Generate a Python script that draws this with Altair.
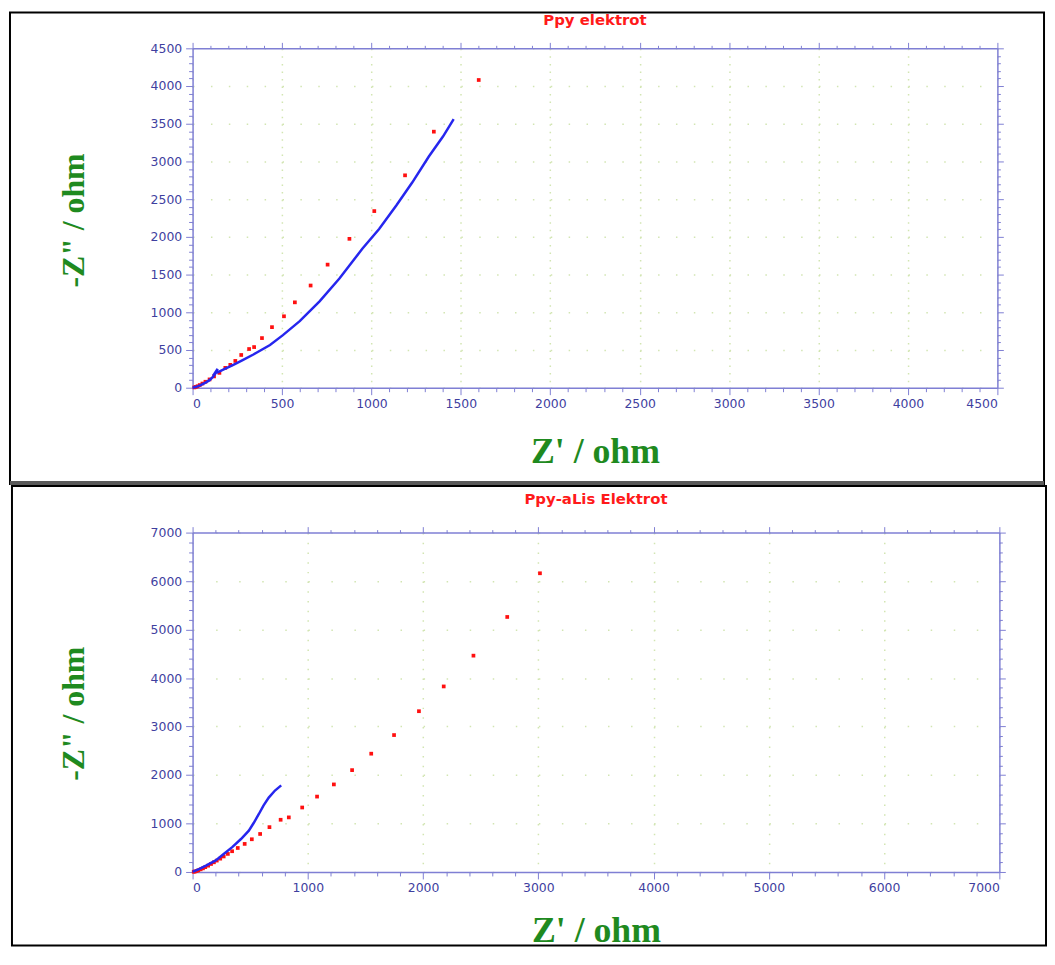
import altair as alt
import pandas as pd

# ---------------- data ----------------
top_red_x = [1600, 1349, 1188, 1016, 877, 755, 660, 572, 511, 444, 388, 344, 316, 272,
             239, 211, 183, 150, 120, 95, 72, 55, 40, 28, 18, 10]
top_red_y = [4080, 3395, 2816, 2342, 1974, 1632, 1355, 1132, 947, 803, 658, 539, 513, 434,
             355, 303, 263, 197, 150, 110, 79, 55, 35, 20, 10, 4]

top_blue_x = [0, 20, 45, 70, 95, 115, 130, 140, 136, 125, 140, 180, 228, 280, 340, 433,
              505, 599, 710, 821, 949, 1043, 1140, 1228, 1321, 1400, 1460]
top_blue_y = [0, 12, 35, 65, 100, 145, 195, 250, 235, 195, 205, 250, 303, 365, 440, 566,
              697, 882, 1145, 1447, 1842, 2105, 2420, 2720, 3065, 3330, 3560]

bot_red_x = [3014, 2730, 2437, 2179, 1964, 1748, 1550, 1384, 1226, 1080, 951, 835, 764,
             667, 586, 514, 452, 392, 343, 306, 270, 240, 210, 185, 160, 135, 110, 90,
             70, 50, 35, 20, 10]
bot_red_y = [6161, 5260, 4462, 3827, 3316, 2824, 2440, 2101, 1806, 1555, 1330, 1126, 1077,
             925, 784, 675, 579, 495, 428, 373, 320, 275, 235, 200, 165, 130, 100, 75,
             55, 35, 20, 10, 4]

bot_blue_x = [0, 60, 120, 201, 270, 344, 420, 488, 530, 574, 615, 661, 715, 769]
bot_blue_y = [0, 65, 135, 239, 370, 512, 680, 851, 1010, 1191, 1370, 1535, 1680, 1787]

titles = ["Ppy elektrot", "Ppy-aLis Elektrot"]
x_title = "Z' / ohm"
y_title = '-Z" / ohm'

AXIS_COL = "#7f7fd4"
LABEL_COL = "#3f3f9f"
GREEN = "#1f8a1f"
GRID_COL = "#d2e5b2"


def cond(major, a, b):
    return {"condition": {"test": f"datum.value % {major} == 0", "value": a}, "value": b}


def panel(rx, ry, bx, by, vmax, major, minor, W, H, title, frame, sep, ytitle_y, xtitle_y,
          title_y):
    vals = list(range(0, vmax + 1, minor))
    red = pd.DataFrame({"x": rx, "y": ry})
    blue = pd.DataFrame({"x": bx, "y": by, "o": list(range(len(bx)))})
    n = vmax // minor
    xs = alt.Scale(domain=[0, vmax], nice=False, zero=False)
    ys = alt.Scale(domain=[0, vmax], nice=False, zero=False)

    x_main = alt.Axis(orient="bottom", values=vals, format="d", labelOverlap=False,
                      labelExpr=f"datum.value % {major} == 0 ? datum.label : ''",
                      tickSize=cond(major, 7, 4), labelPadding=3,
                      grid=True, gridOpacity=cond(major, 1, 0), gridColor=GRID_COL,
                      gridWidth=1.5, gridDash=[1.5, H / n - 1.5],
                      title=x_title, titleX=W / 2, titleY=xtitle_y, titleBaseline="middle",
                      titleFont="Liberation Serif", titleFontSize=36,
                      titleFontWeight="bold", titleColor=GREEN)
    y_main = alt.Axis(orient="left", values=vals, format="d", labelOverlap=False,
                      labelExpr=f"datum.value % {major} == 0 ? datum.label : ''",
                      tickSize=cond(major, 7, 4), labelPadding=4,
                      grid=True, gridOpacity=cond(major, 1, 0), gridColor=GRID_COL,
                      gridWidth=1.5, gridDash=[1.5, W / n - 1.5],
                      title=y_title, titleX=-120, titleY=ytitle_y, titleAngle=270,
                      titleAlign="center", titleBaseline="middle",
                      titleFont="Liberation Serif", titleFontSize=32,
                      titleFontWeight="bold", titleColor=GREEN)
    x_top = alt.Axis(orient="top", values=vals, labels=False, title=None, grid=False,
                     tickSize=cond(major, 6, 3))
    y_right = alt.Axis(orient="right", values=vals, labels=False, title=None, grid=False,
                       tickSize=cond(major, 6, 3))

    pts = alt.Chart(red).mark_square(size=14, color="#ff1010", opacity=1).encode(
        x=alt.X("x:Q", scale=xs, axis=x_main),
        y=alt.Y("y:Q", scale=ys, axis=y_main),
    )
    line = alt.Chart(blue).mark_line(color="#2626ee", strokeWidth=2.5).encode(
        x=alt.X("x:Q", scale=xs, axis=x_top),
        y=alt.Y("y:Q", scale=ys, axis=y_right),
        order="o:Q",
    )
    one = pd.DataFrame({"a": [0]})
    box = alt.Chart(one).mark_rect(fillOpacity=0, stroke="black", strokeWidth=2).encode(
        x=alt.value(frame[0]), x2=alt.value(frame[1]),
        y=alt.value(frame[2]), y2=alt.value(frame[3]),
    )
    ttl = alt.Chart(one).mark_text(
        color="#ff1a1a", font="DejaVu Sans", fontSize=15, fontWeight="bold",
        baseline="middle", align="center",
    ).encode(x=alt.value(W / 2), y=alt.value(title_y), text=alt.value(title))
    layers = [box, ttl, pts, line]
    if sep is not None:
        rule = alt.Chart(one).mark_rule(color="#5a5a5a", strokeWidth=4).encode(
            x=alt.value(frame[0]), x2=alt.value(frame[1]), y=alt.value(sep))
        layers.append(rule)
    return alt.layer(*layers).resolve_axis(x="independent", y="independent").properties(
        width=W, height=H)


top = panel(top_red_x, top_red_y, top_blue_x, top_blue_y, 4500, 500, 100, 811, 342,
            titles[0], (-184, 858, -36, 439), 438, 173, 64, -29)
bot = panel(bot_red_x, bot_red_y, bot_blue_x, bot_blue_y, 7000, 1000, 200, 813, 342,
            titles[1], (-182, 860, -47, 416), None, 182, 59, -34)

chart = alt.vconcat(top, bot, spacing=0).properties(padding=0).configure_view(
    stroke=None
).configure_axis(
    domainColor=AXIS_COL, domainWidth=1.5, tickColor=AXIS_COL, tickWidth=1,
    labelColor=LABEL_COL, labelFont="DejaVu Sans", labelFontSize=12.5,
)

chart.save("out.html", embed_options={"renderer": "svg", "actions": False})
